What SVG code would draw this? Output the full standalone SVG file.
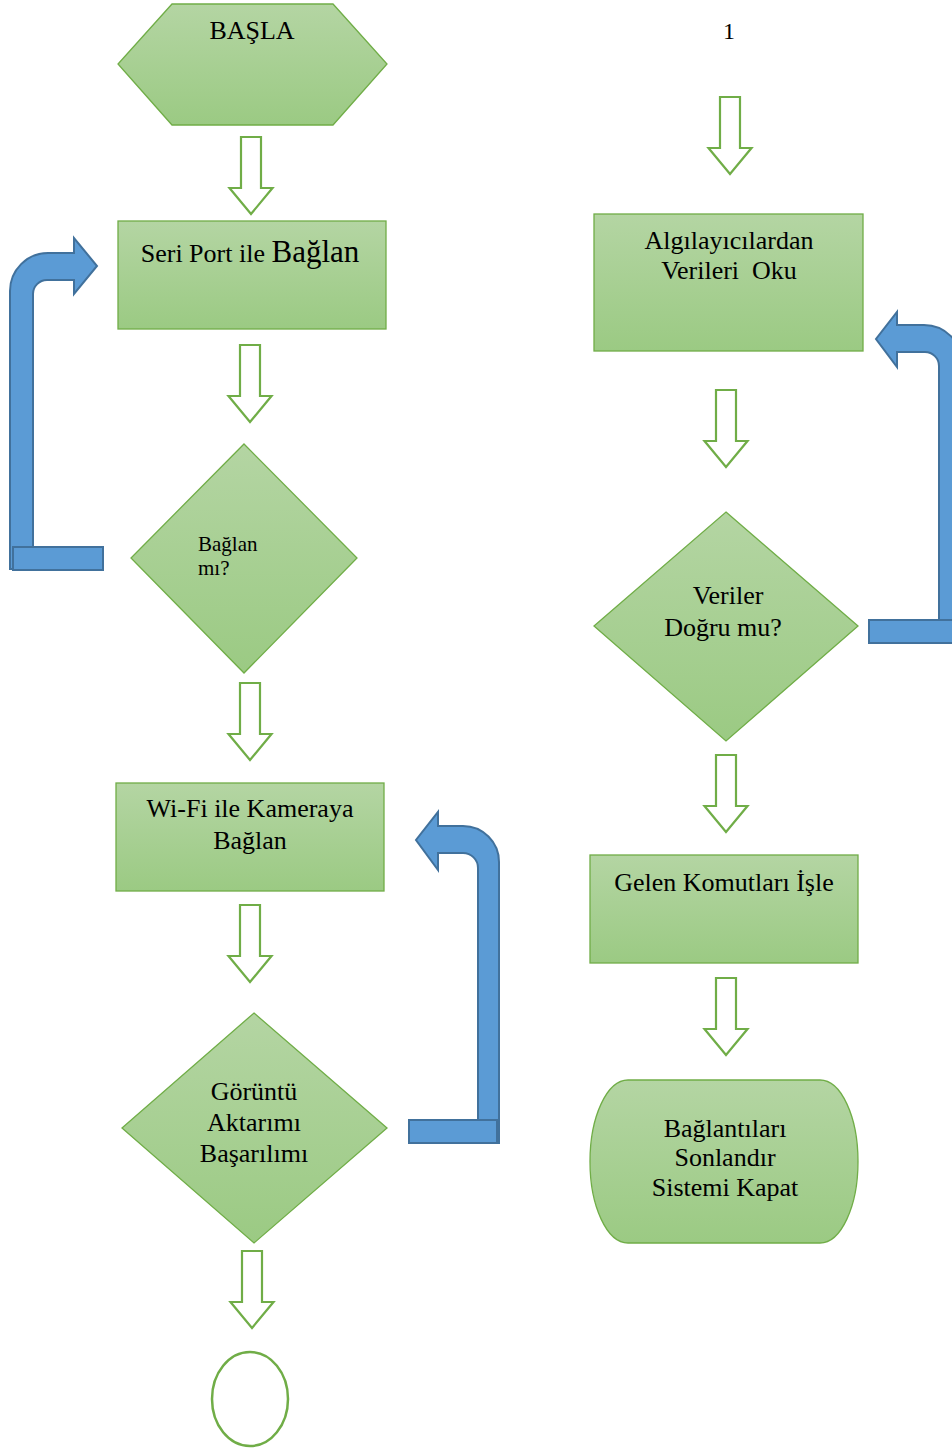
<svg xmlns="http://www.w3.org/2000/svg" xmlns:xlink="http://www.w3.org/1999/xlink" width="952" height="1449" viewBox="0 0 952 1449">
<defs>
<linearGradient id="g" x1="0" y1="0" x2="0" y2="1">
<stop offset="0" stop-color="#B4D5A3"/>
<stop offset="1" stop-color="#9BCA83"/>
</linearGradient>
<path id="ha" d="M -10 0 H 10 V 51 H 21.5 L 0 77 L -21.5 51 H -10 Z"/>
<style>
.n{fill:url(#g);stroke:#70AD47;stroke-width:1.3}
.h{fill:#fff;stroke:#70AD47;stroke-width:2.2}
.b{fill:#5B9BD5;stroke:#41719C;stroke-width:2}
text{font-family:"Liberation Serif","Times New Roman",serif;font-size:26px;fill:#000}
.c{text-anchor:middle}
</style>
</defs>
<rect width="952" height="1449" fill="#fff"/>

<g id="connectors">
<use href="#ha" class="h" x="251" y="137"/>
<use href="#ha" class="h" x="250" y="345"/>
<use href="#ha" class="h" x="250" y="683"/>
<use href="#ha" class="h" x="250" y="905"/>
<use href="#ha" class="h" x="252" y="1251"/>
<use href="#ha" class="h" x="730" y="97"/>
<use href="#ha" class="h" x="726" y="390"/>
<use href="#ha" class="h" x="726" y="755"/>
<use href="#ha" class="h" x="726" y="978"/>
<g id="loop1">
<path class="b" d="M 10 569 V 291 A 38 38 0 0 1 48 253 H 74 V 238 L 97 266 L 74 294 V 280 H 47 A 14 14 0 0 0 33 294 V 569 Z"/>
<rect class="b" x="13" y="547" width="90" height="23"/>
</g>
<g id="loop2">
<path class="b" d="M 962 643 V 363 A 38 38 0 0 0 924 325 H 897 V 312 L 876 339 L 897 367 V 352 H 925 A 14 14 0 0 1 939 366 V 643 Z"/>
<rect class="b" x="869" y="620" width="92" height="23"/>
</g>
<g id="loop3">
<path class="b" d="M 499 1143 V 862 A 36 36 0 0 0 463 826 H 438 V 812 L 416 840 L 438 870 V 853 H 463 A 15 15 0 0 1 478 868 V 1143 Z"/>
<rect class="b" x="409" y="1120" width="88" height="23"/>
</g>
</g>

<g id="start">
<polygon class="n" points="172,4 333,4 387,64 333,125 172,125 118,64"/>
<text class="c" x="252" y="39">BAŞLA</text>
</g>

<g id="label1">
<text class="c" x="729" y="39" style="font-size:24px">1</text>
</g>

<g id="seriport">
<rect class="n" x="118" y="221" width="268" height="108"/>
<text class="c" x="250" y="262">Seri Port ile <tspan style="font-size:31px">Bağlan</tspan></text>
</g>

<g id="baglanmi">
<polygon class="n" points="244,444 357,558 244,673 131,558"/>
<text x="198" y="551" style="font-size:21px">Bağlan</text>
<text x="198" y="575" style="font-size:21px">mı?</text>
</g>

<g id="wifi">
<rect class="n" x="116" y="783" width="268" height="108"/>
<text class="c" x="250" y="817">Wi-Fi ile Kameraya</text>
<text class="c" x="250" y="849">Bağlan</text>
</g>

<g id="goruntu">
<polygon class="n" points="254,1013 387,1128 254,1243 122,1128"/>
<text class="c" x="254" y="1100">Görüntü</text>
<text class="c" x="254" y="1131">Aktarımı</text>
<text class="c" x="254" y="1162">Başarılımı</text>
</g>

<g id="circle">
<ellipse cx="250" cy="1399" rx="38" ry="47" fill="#fff" stroke="#70AD47" stroke-width="2.5"/>
</g>

<g id="algila">
<rect class="n" x="594" y="214" width="269" height="137"/>
<text class="c" x="729" y="249">Algılayıcılardan</text>
<text class="c" x="729" y="279" xml:space="preserve">Verileri  Oku</text>
</g>

<g id="dogru">
<polygon class="n" points="726,512 858,626 726,741 594,626"/>
<text class="c" x="728" y="604">Veriler</text>
<text class="c" x="723" y="636">Doğru mu?</text>
</g>

<g id="gelen">
<rect class="n" x="590" y="855" width="268" height="108"/>
<text class="c" x="724" y="891">Gelen Komutları İşle</text>
</g>

<g id="end">
<path class="n" d="M 628 1080 H 820 A 38 81.5 0 0 1 820 1243 H 628 A 38 81.5 0 0 1 628 1080 Z"/>
<text class="c" x="725" y="1137">Bağlantıları</text>
<text class="c" x="725" y="1166">Sonlandır</text>
<text class="c" x="725" y="1196">Sistemi Kapat</text>
</g>
</svg>
